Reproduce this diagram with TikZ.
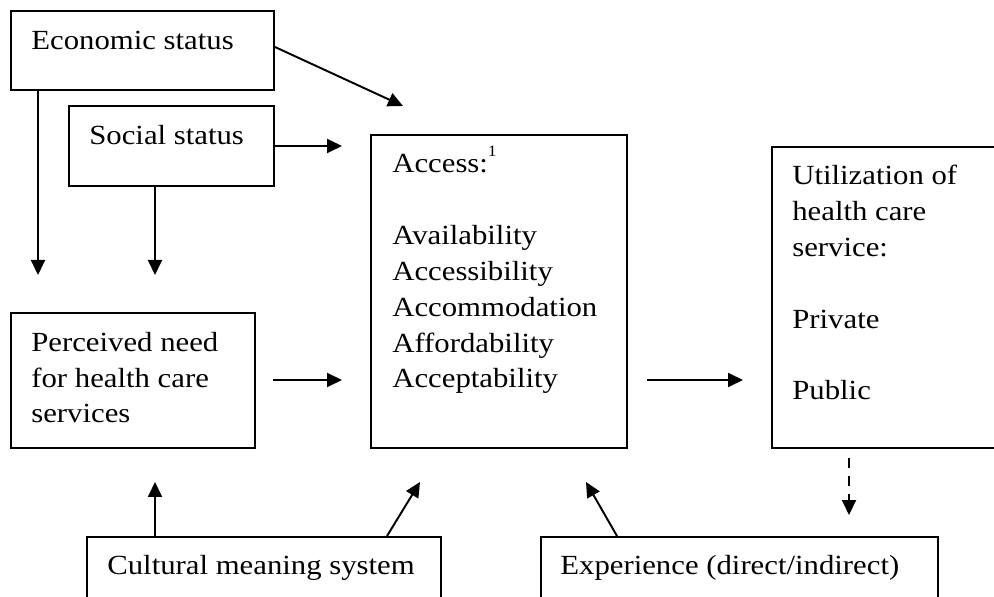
\documentclass[tikz,border=0pt]{standalone}
\usepackage{fontspec}
\setmainfont{Liberation Serif}
\usetikzlibrary{arrows.meta,fit}
\tikzset{
  box/.style={draw,line width=1.1pt,inner sep=0pt},
  txt/.style={anchor=base west,align=left,inner sep=0pt,yscale=0.9,font=\fontsize{17.5}{22.7}\selectfont},
  link/.style={line width=1.1pt,-{Triangle[length=0.3cm,width=0.28cm]}},
}
\begin{document}
\begin{tikzpicture}[x=0.02cm,y=-0.02cm]
        \useasboundingbox (0,0) rectangle (994,597);
        %% Boxes
        \node[box,fit={(11,11) (274,90)}] (econ) {};
        \node[box,fit={(69,106) (274,186)}] (social) {};
        \node[box,fit={(11,313) (255,448)}] (need) {};
        \node[box,fit={(371,135) (627,448)}] (access) {};
        \node[box,fit={(772,147) (1010,448)}] (util) {};
        \node[box,fit={(87,537) (441,620)}] (culture) {};
        \node[box,fit={(541,537) (938,620)}] (exper) {};
        %% Box texts (base is the last line)
        \node[txt] (econtxt) at (31,50) {Economic status};
        \node[txt] (socialtxt) at (89,145) {Social status};
        \node[txt] (needtxt) at (31,423) {Perceived need\\for health care\\services};
        \node[txt] (accesstxt) at (392,388) {Access:\raisebox{0.6em}{\fontsize{10}{10}\selectfont 1}\\[22.7pt]Availability\\Accessibility\\Accommodation\\Affordability\\Acceptability};
        \node[txt] (utiltxt) at (792,400) {Utilization of\\health care\\service:\\[22.7pt]Private\\[22.7pt]Public};
        \node[txt] (culturetxt) at (107,575) {Cultural meaning system};
        \node[txt] (expertxt) at (560,575) {Experience (direct/indirect)};
        %% Free arrow ends
        \coordinate (econend) at (403,106);
        \coordinate (socialend) at (342,146);
        \coordinate (econdown) at (38,275);
        \coordinate (socialdown) at (155,275);
        \coordinate (needstart) at (273,380);
        \coordinate (needend) at (342,380);
        \coordinate (accstart) at (647,380);
        \coordinate (accend) at (743,380);
        \coordinate (utilstart) at (849,458);
        \coordinate (utilend) at (849,515);
        \coordinate (cultup) at (155,482);
        \coordinate (cultacc) at (420,482);
        \coordinate (experacc) at (586,482);
        %% Arrows
        \draw[link] (econ.east |- 0,47) -- (econend);
        \draw[link] (social.east) -- (socialend);
        \draw[link] (econ.south -| econdown) -- (econdown);
        \draw[link] (social.south -| socialdown) -- (socialdown);
        \draw[link] (needstart) -- (needend);
        \draw[link] (accstart) -- (accend);
        \draw[link,dash pattern=on 5.7pt off 4.5pt] (utilstart) -- (utilend);
        \draw[link] (culture.north -| cultup) -- (cultup);
        \draw[link] (culture.north -| 387,0) -- (cultacc);
        \draw[link] (exper.north -| 617,0) -- (experacc);
\end{tikzpicture}
\end{document}
